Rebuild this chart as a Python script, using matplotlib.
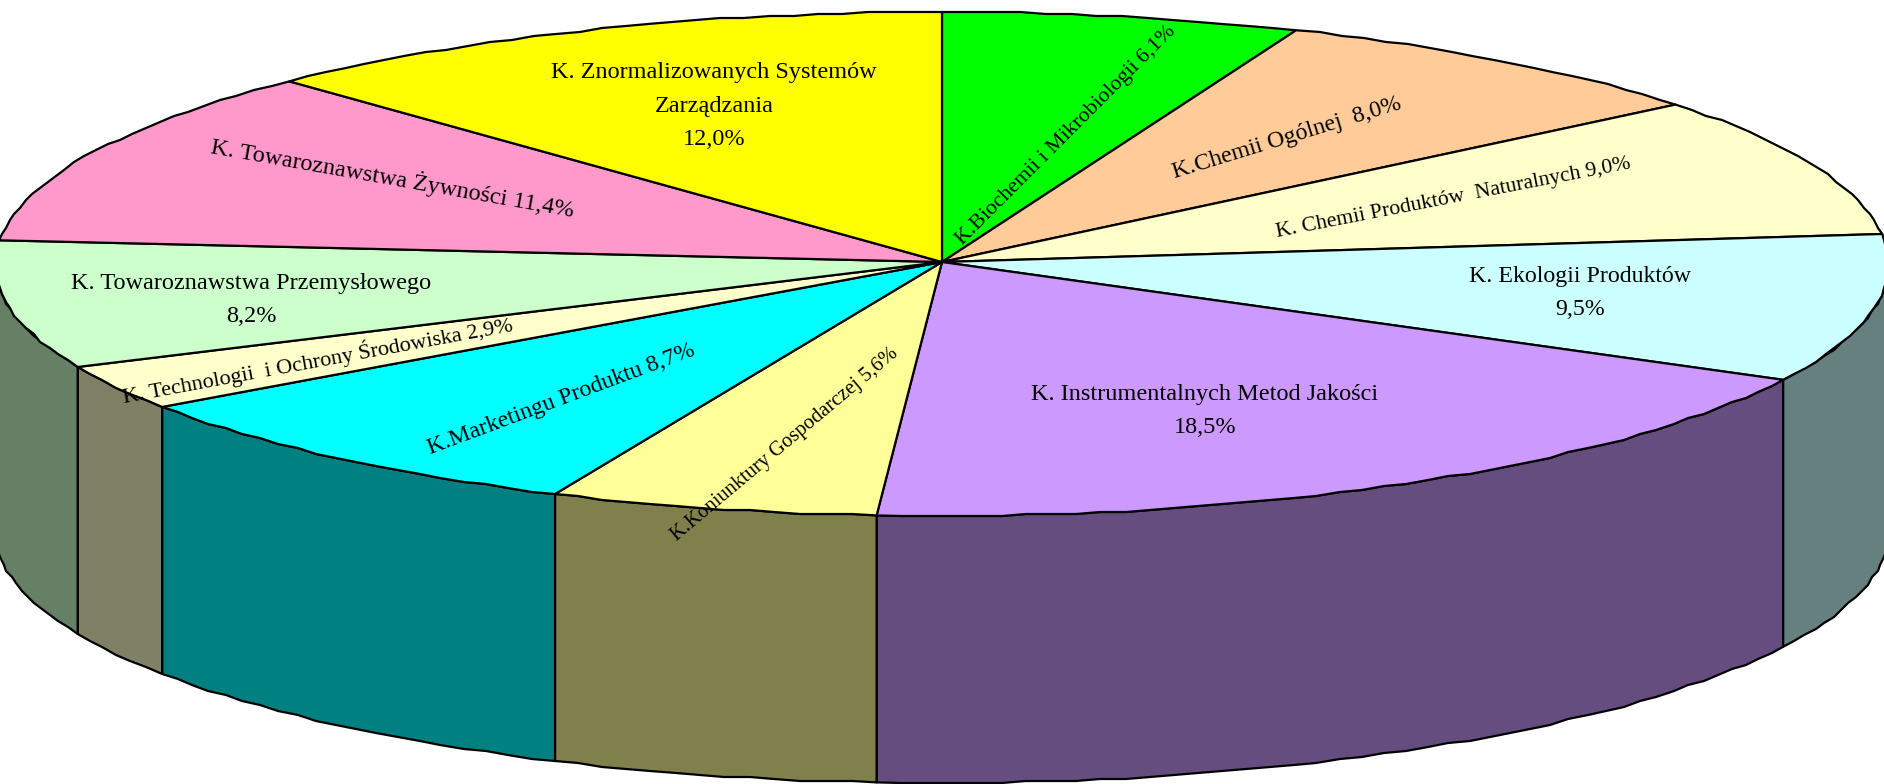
import numpy as np
import matplotlib
matplotlib.use("Agg")
import matplotlib.pyplot as plt
from matplotlib.patches import Polygon

# ---------------------
# Data
# ---------------------
values = [6.1, 8.0, 9.0, 9.5, 18.5, 5.6, 8.7, 2.9, 8.2, 11.4, 12.0]
labels = [
    "K.Biochemii i Mikrobiologii 6,1%",
    "K.Chemii Ogólnej  8,0%",
    "K. Chemii Produktów  Naturalnych 9,0%",
    "K. Ekologii Produktów\n9,5%",
    "K. Instrumentalnych Metod Jakości\n18,5%",
    "K.Koniunktury Gospodarczej 5,6%",
    "K.Marketingu Produktu 8,7%",
    "K. Technologii  i Ochrony Środowiska 2,9%",
    "K. Towaroznawstwa Przemysłowego\n8,2%",
    "K. Towaroznawstwa Żywności 11,4%",
    "K. Znormalizowanych Systemów\nZarządzania\n12,0%",
]
colors = ["#00FF00", "#FFCC99", "#FFFFCC", "#CCFFFF", "#CC99FF", "#FFFF99",
          "#00FFFF", "#FFFFCC", "#CCFFCC", "#FF99CC", "#FFFF00"]

# label placement: x, y, rotation, font size
label_x = [1066, 1287, 1453, 1580, 1205, 785, 561, 318, 251, 393, 714]
label_y = [135, 138, 198, 293, 411, 445, 399, 360, 300, 178, 106]
label_rot = [45, 17, 11, 0, 0, 40, 20.5, 10.5, 0, -10, 0]
label_size = [15.7, 17.2, 15.7, 17.2, 17.5, 14.8, 17.2, 16, 17.5, 17.5, 17.5]

# ---------------------
# Pie geometry (image pixels)
# ---------------------
CX, CY = 942, 264
APEX_Y = 262
RX, RY = 947, 252
DEPTH = 267
GRID = 2  # outline of the original is coarse, keep it a bit stepped


def arc(a0, a1, dy=0):
    n = max(2, int((a1 - a0) / 1.5) + 1)
    t = np.radians(np.linspace(a0, a1, n))
    x = CX + RX * np.sin(t)
    y = CY - RY * np.cos(t)
    inner = np.arange(1, n - 1)
    x[inner] = np.round(x[inner] / GRID) * GRID
    y[inner] = np.round(y[inner] / GRID) * GRID
    return np.column_stack([x, y + dy])


def darker(color):
    rgb = np.array(matplotlib.colors.to_rgb(color))
    return tuple(rgb * 0.5)


fig = plt.figure(figsize=(18.84, 7.84), dpi=100)
ax = fig.add_axes([0, 0, 1, 1])
ax.set_xlim(0, 1884)
ax.set_ylim(784, 0)
ax.axis("off")

# rounded values add up to 99.9, the last slice closes the circle
edges = np.cumsum([0] + values) / 100 * 360
edges[-1] = 360

# sides first, only the front half of the rim can be seen
for i, color in enumerate(colors):
    a0 = max(edges[i], 90)
    a1 = min(edges[i + 1], 270)
    if a1 <= a0:
        continue
    top = arc(a0, a1)
    bottom = arc(a0, a1, DEPTH)[::-1]
    ax.add_patch(Polygon(np.vstack([top, bottom]), closed=True,
                         facecolor=darker(color), edgecolor="black",
                         linewidth=1.6, joinstyle="round"))

# top face
for i, color in enumerate(colors):
    pts = np.vstack([[[CX, APEX_Y]], arc(edges[i], edges[i + 1])])
    ax.add_patch(Polygon(pts, closed=True, facecolor=color, edgecolor="black",
                         linewidth=1.6, joinstyle="round"))

for i, label in enumerate(labels):
    ax.text(label_x[i], label_y[i], label, rotation=label_rot[i],
            rotation_mode="anchor", ha="center", va="center", color="black",
            fontsize=label_size[i], family="Liberation Serif", linespacing=1.8)

fig.savefig("out.png", dpi=100)
plt.close(fig)
